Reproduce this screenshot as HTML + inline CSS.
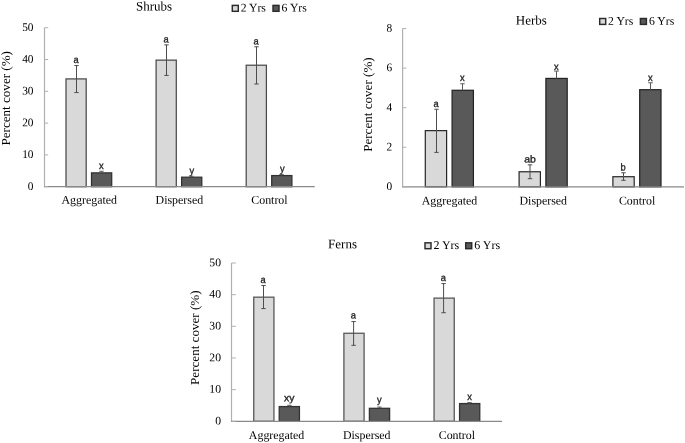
<!DOCTYPE html>
<html><head><meta charset="utf-8"><title>Percent cover</title>
<style>html,body{margin:0;padding:0;background:#fff}svg{display:block}</style></head>
<body><svg width="685" height="443" viewBox="0 0 685 443">
<rect width="685" height="443" fill="#fff"/>
<rect x="66.00" y="78.90" width="20.20" height="107.80" fill="#d9d9d9" stroke="#4a4a4a" stroke-width="1.25"/>
<path d="M76.50 65.54V92.57M74.30 65.54h4.4M74.30 92.57h4.4" stroke="#4d4d4d" stroke-width="1" fill="none"/>
<text transform="translate(76.20 63.00) rotate(0.04) scale(0.93 1)" font-family='"Liberation Sans", sans-serif' font-size="10" text-anchor="middle" fill="#262626" stroke="#262626" stroke-width="0.35">a</text>
<rect x="91.50" y="172.87" width="20.20" height="13.83" fill="#595959" stroke="#303030" stroke-width="1.25"/>
<path d="M101.50 171.28V172.87M99.30 171.28h4.4" stroke="#595959" stroke-width="1" fill="none"/>
<text transform="translate(101.20 169.00) rotate(0.04) scale(0.93 1)" font-family='"Liberation Sans", sans-serif' font-size="10" text-anchor="middle" fill="#262626" stroke="#262626" stroke-width="0.35">x</text>
<text transform="translate(89.25 203.80) rotate(0.04)" font-family='"Liberation Serif", serif' font-size="11.9" text-anchor="middle" fill="#000">Aggregated</text>
<rect x="156.10" y="60.14" width="20.20" height="126.56" fill="#d9d9d9" stroke="#4a4a4a" stroke-width="1.25"/>
<path d="M166.50 44.87V75.40M164.30 44.87h4.4M164.30 75.40h4.4" stroke="#4d4d4d" stroke-width="1" fill="none"/>
<text transform="translate(166.20 42.50) rotate(0.04) scale(0.93 1)" font-family='"Liberation Sans", sans-serif' font-size="10" text-anchor="middle" fill="#262626" stroke="#262626" stroke-width="0.35">a</text>
<rect x="181.60" y="177.19" width="20.20" height="9.51" fill="#595959" stroke="#303030" stroke-width="1.25"/>
<path d="M191.50 176.24V177.19M189.30 176.24h4.4" stroke="#595959" stroke-width="1" fill="none"/>
<text transform="translate(191.70 174.00) rotate(0.04) scale(0.93 1)" font-family='"Liberation Sans", sans-serif' font-size="10" text-anchor="middle" fill="#262626" stroke="#262626" stroke-width="0.35">y</text>
<text transform="translate(179.35 203.80) rotate(0.04)" font-family='"Liberation Serif", serif' font-size="11.9" text-anchor="middle" fill="#000">Dispersed</text>
<rect x="246.20" y="65.22" width="20.20" height="121.48" fill="#d9d9d9" stroke="#4a4a4a" stroke-width="1.25"/>
<path d="M256.50 46.78V83.99M254.30 46.78h4.4M254.30 83.99h4.4" stroke="#4d4d4d" stroke-width="1" fill="none"/>
<text transform="translate(256.20 44.60) rotate(0.04) scale(0.93 1)" font-family='"Liberation Sans", sans-serif' font-size="10" text-anchor="middle" fill="#262626" stroke="#262626" stroke-width="0.35">a</text>
<rect x="271.70" y="175.57" width="20.20" height="11.13" fill="#595959" stroke="#303030" stroke-width="1.25"/>
<path d="M281.50 174.62V175.57M279.30 174.62h4.4" stroke="#595959" stroke-width="1" fill="none"/>
<text transform="translate(282.40 172.00) rotate(0.04) scale(0.93 1)" font-family='"Liberation Sans", sans-serif' font-size="10" text-anchor="middle" fill="#262626" stroke="#262626" stroke-width="0.35">y</text>
<text transform="translate(269.45 203.80) rotate(0.04)" font-family='"Liberation Serif", serif' font-size="11.9" text-anchor="middle" fill="#000">Control</text>
<path d="M44.50 27.70V186.70" stroke="#b0b0b0" stroke-width="1.2" fill="none"/>
<path d="M44.00 186.70H314.80" stroke="#8a8a8a" stroke-width="1.3" fill="none"/>
<path d="M44.50 186.70h3.7" stroke="#b0b0b0" stroke-width="1"/>
<text transform="translate(33.50 189.90) rotate(0.04) scale(0.97 1)" font-family='"Liberation Serif", serif' font-size="11.7" text-anchor="end" fill="#000">0</text>
<path d="M44.50 154.90h3.7" stroke="#b0b0b0" stroke-width="1"/>
<text transform="translate(33.50 158.10) rotate(0.04) scale(0.97 1)" font-family='"Liberation Serif", serif' font-size="11.7" text-anchor="end" fill="#000">10</text>
<path d="M44.50 123.10h3.7" stroke="#b0b0b0" stroke-width="1"/>
<text transform="translate(33.50 126.30) rotate(0.04) scale(0.97 1)" font-family='"Liberation Serif", serif' font-size="11.7" text-anchor="end" fill="#000">20</text>
<path d="M44.50 91.30h3.7" stroke="#b0b0b0" stroke-width="1"/>
<text transform="translate(33.50 94.50) rotate(0.04) scale(0.97 1)" font-family='"Liberation Serif", serif' font-size="11.7" text-anchor="end" fill="#000">30</text>
<path d="M44.50 59.50h3.7" stroke="#b0b0b0" stroke-width="1"/>
<text transform="translate(33.50 62.70) rotate(0.04) scale(0.97 1)" font-family='"Liberation Serif", serif' font-size="11.7" text-anchor="end" fill="#000">40</text>
<path d="M44.50 27.70h3.7" stroke="#b0b0b0" stroke-width="1"/>
<text transform="translate(33.50 30.90) rotate(0.04) scale(0.97 1)" font-family='"Liberation Serif", serif' font-size="11.7" text-anchor="end" fill="#000">50</text>
<text transform="translate(9.70 98.30) rotate(-90)" font-family='"Liberation Serif", serif' font-size="13.1" text-anchor="middle" fill="#000">Percent cover (%)</text>
<text transform="translate(154.00 10.40) rotate(0.04)" font-family='"Liberation Serif", serif' font-size="13" text-anchor="middle" fill="#000">Shrubs</text>
<rect x="232.30" y="5.40" width="6" height="5.9" fill="#d9d9d9" stroke="#2a2a2a" stroke-width="1.45"/>
<text transform="translate(240.70 11.60) rotate(0.04)" font-family='"Liberation Serif", serif' font-size="11.7" fill="#000">2 Yrs</text>
<rect x="273.00" y="5.40" width="6" height="5.9" fill="#595959" stroke="#2a2a2a" stroke-width="1.45"/>
<text transform="translate(281.60 11.60) rotate(0.04)" font-family='"Liberation Serif", serif' font-size="11.7" fill="#000">6 Yrs</text>
<rect x="425.30" y="130.64" width="21.30" height="56.16" fill="#d9d9d9" stroke="#262626" stroke-width="1.2"/>
<path d="M436.50 109.28V152.39M434.30 109.28h4.4M434.30 152.39h4.4" stroke="#4d4d4d" stroke-width="1" fill="none"/>
<text transform="translate(436.20 107.00) rotate(0.04) scale(0.93 1)" font-family='"Liberation Sans", sans-serif' font-size="10" text-anchor="middle" fill="#262626" stroke="#262626" stroke-width="0.35">a</text>
<rect x="452.10" y="90.30" width="21.30" height="96.50" fill="#595959" stroke="#242424" stroke-width="1.25"/>
<path d="M462.50 83.77V90.30M460.30 83.77h4.4" stroke="#595959" stroke-width="1" fill="none"/>
<text transform="translate(462.20 81.00) rotate(0.04) scale(0.93 1)" font-family='"Liberation Sans", sans-serif' font-size="10" text-anchor="middle" fill="#262626" stroke="#262626" stroke-width="0.35">x</text>
<text transform="translate(449.50 204.40) rotate(0.04)" font-family='"Liberation Serif", serif' font-size="11.9" text-anchor="middle" fill="#000">Aggregated</text>
<rect x="519.10" y="171.77" width="21.30" height="15.03" fill="#d9d9d9" stroke="#262626" stroke-width="1.2"/>
<path d="M530.00 164.85V178.69M527.80 164.85h4.4M527.80 178.69h4.4" stroke="#4d4d4d" stroke-width="1" fill="none"/>
<text transform="translate(530.00 162.50) rotate(0.04) scale(1.04 1)" font-family='"Liberation Sans", sans-serif' font-size="10" text-anchor="middle" fill="#262626" stroke="#262626" stroke-width="0.35">ab</text>
<rect x="545.90" y="78.43" width="21.30" height="108.37" fill="#595959" stroke="#242424" stroke-width="1.25"/>
<path d="M556.50 71.12V78.43M554.30 71.12h4.4" stroke="#595959" stroke-width="1" fill="none"/>
<text transform="translate(556.20 70.00) rotate(0.04) scale(0.93 1)" font-family='"Liberation Sans", sans-serif' font-size="10" text-anchor="middle" fill="#262626" stroke="#262626" stroke-width="0.35">x</text>
<text transform="translate(543.30 204.40) rotate(0.04)" font-family='"Liberation Serif", serif' font-size="11.9" text-anchor="middle" fill="#000">Dispersed</text>
<rect x="612.90" y="176.71" width="21.30" height="10.09" fill="#d9d9d9" stroke="#262626" stroke-width="1.2"/>
<path d="M623.50 172.76V180.27M621.30 172.76h4.4M621.30 180.27h4.4" stroke="#4d4d4d" stroke-width="1" fill="none"/>
<text transform="translate(623.20 170.50) rotate(0.04) scale(0.93 1)" font-family='"Liberation Sans", sans-serif' font-size="10" text-anchor="middle" fill="#262626" stroke="#262626" stroke-width="0.35">b</text>
<rect x="639.70" y="89.70" width="21.30" height="97.10" fill="#595959" stroke="#242424" stroke-width="1.25"/>
<path d="M650.50 82.78V89.70M648.30 82.78h4.4" stroke="#595959" stroke-width="1" fill="none"/>
<text transform="translate(650.20 81.00) rotate(0.04) scale(0.93 1)" font-family='"Liberation Sans", sans-serif' font-size="10" text-anchor="middle" fill="#262626" stroke="#262626" stroke-width="0.35">x</text>
<text transform="translate(637.10 204.40) rotate(0.04)" font-family='"Liberation Serif", serif' font-size="11.9" text-anchor="middle" fill="#000">Control</text>
<path d="M402.60 28.60V186.80" stroke="#b0b0b0" stroke-width="1.2" fill="none"/>
<path d="M402.10 186.80H684.00" stroke="#8a8a8a" stroke-width="1.3" fill="none"/>
<path d="M402.60 186.80h3.7" stroke="#b0b0b0" stroke-width="1"/>
<text transform="translate(392.20 190.00) rotate(0.04) scale(0.97 1)" font-family='"Liberation Serif", serif' font-size="11.7" text-anchor="end" fill="#000">0</text>
<path d="M402.60 147.25h3.7" stroke="#b0b0b0" stroke-width="1"/>
<text transform="translate(392.20 150.45) rotate(0.04) scale(0.97 1)" font-family='"Liberation Serif", serif' font-size="11.7" text-anchor="end" fill="#000">2</text>
<path d="M402.60 107.70h3.7" stroke="#b0b0b0" stroke-width="1"/>
<text transform="translate(392.20 110.90) rotate(0.04) scale(0.97 1)" font-family='"Liberation Serif", serif' font-size="11.7" text-anchor="end" fill="#000">4</text>
<path d="M402.60 68.15h3.7" stroke="#b0b0b0" stroke-width="1"/>
<text transform="translate(392.20 71.35) rotate(0.04) scale(0.97 1)" font-family='"Liberation Serif", serif' font-size="11.7" text-anchor="end" fill="#000">6</text>
<path d="M402.60 28.60h3.7" stroke="#b0b0b0" stroke-width="1"/>
<text transform="translate(392.20 31.80) rotate(0.04) scale(0.97 1)" font-family='"Liberation Serif", serif' font-size="11.7" text-anchor="end" fill="#000">8</text>
<text transform="translate(371.80 104.60) rotate(-90)" font-family='"Liberation Serif", serif' font-size="13.1" text-anchor="middle" fill="#000">Percent cover (%)</text>
<text transform="translate(531.30 24.40) rotate(0.04)" font-family='"Liberation Serif", serif' font-size="13" text-anchor="middle" fill="#000">Herbs</text>
<rect x="599.70" y="18.50" width="6" height="5.9" fill="#d9d9d9" stroke="#2a2a2a" stroke-width="1.45"/>
<text transform="translate(608.10 24.70) rotate(0.04)" font-family='"Liberation Serif", serif' font-size="11.7" fill="#000">2 Yrs</text>
<rect x="640.40" y="18.50" width="6" height="5.9" fill="#595959" stroke="#2a2a2a" stroke-width="1.45"/>
<text transform="translate(649.00 24.70) rotate(0.04)" font-family='"Liberation Serif", serif' font-size="11.7" fill="#000">6 Yrs</text>
<rect x="253.73" y="297.19" width="20.20" height="124.11" fill="#d9d9d9" stroke="#636363" stroke-width="1.4"/>
<path d="M263.50 285.48V308.59M261.30 285.48h4.4M261.30 308.59h4.4" stroke="#4d4d4d" stroke-width="1" fill="none"/>
<text transform="translate(263.20 283.00) rotate(0.04) scale(0.93 1)" font-family='"Liberation Sans", sans-serif' font-size="10" text-anchor="middle" fill="#262626" stroke="#262626" stroke-width="0.35">a</text>
<rect x="279.23" y="406.58" width="20.20" height="14.72" fill="#595959" stroke="#333333" stroke-width="1.3"/>
<path d="M289.50 405.31V406.58M287.30 405.31h4.4" stroke="#595959" stroke-width="1" fill="none"/>
<text transform="translate(289.20 401.20) rotate(0.04) scale(1.04 1)" font-family='"Liberation Sans", sans-serif' font-size="10" text-anchor="middle" fill="#262626" stroke="#262626" stroke-width="0.35">xy</text>
<text transform="translate(276.58 438.90) rotate(0.04)" font-family='"Liberation Serif", serif' font-size="11.9" text-anchor="middle" fill="#000">Aggregated</text>
<rect x="343.90" y="333.29" width="20.20" height="88.01" fill="#d9d9d9" stroke="#636363" stroke-width="1.4"/>
<path d="M353.60 321.57V345.32M351.40 321.57h4.4M351.40 345.32h4.4" stroke="#4d4d4d" stroke-width="1" fill="none"/>
<text transform="translate(353.30 318.50) rotate(0.04) scale(0.93 1)" font-family='"Liberation Sans", sans-serif' font-size="10" text-anchor="middle" fill="#262626" stroke="#262626" stroke-width="0.35">a</text>
<rect x="369.40" y="408.32" width="20.20" height="12.98" fill="#595959" stroke="#333333" stroke-width="1.3"/>
<path d="M379.50 407.05V408.32M377.30 407.05h4.4" stroke="#595959" stroke-width="1" fill="none"/>
<text transform="translate(379.20 403.00) rotate(0.04) scale(0.93 1)" font-family='"Liberation Sans", sans-serif' font-size="10" text-anchor="middle" fill="#262626" stroke="#262626" stroke-width="0.35">y</text>
<text transform="translate(366.75 438.90) rotate(0.04)" font-family='"Liberation Serif", serif' font-size="11.9" text-anchor="middle" fill="#000">Dispersed</text>
<rect x="434.07" y="298.14" width="20.20" height="123.16" fill="#d9d9d9" stroke="#636363" stroke-width="1.4"/>
<path d="M443.60 283.58V312.71M441.40 283.58h4.4M441.40 312.71h4.4" stroke="#4d4d4d" stroke-width="1" fill="none"/>
<text transform="translate(443.30 281.00) rotate(0.04) scale(0.93 1)" font-family='"Liberation Sans", sans-serif' font-size="10" text-anchor="middle" fill="#262626" stroke="#262626" stroke-width="0.35">a</text>
<rect x="459.57" y="403.57" width="20.20" height="17.73" fill="#595959" stroke="#333333" stroke-width="1.3"/>
<path d="M469.50 402.62V403.57M467.30 402.62h4.4" stroke="#595959" stroke-width="1" fill="none"/>
<text transform="translate(469.60 399.90) rotate(0.04) scale(0.93 1)" font-family='"Liberation Sans", sans-serif' font-size="10" text-anchor="middle" fill="#262626" stroke="#262626" stroke-width="0.35">x</text>
<text transform="translate(456.92 438.90) rotate(0.04)" font-family='"Liberation Serif", serif' font-size="11.9" text-anchor="middle" fill="#000">Control</text>
<path d="M231.50 263.00V421.30" stroke="#b0b0b0" stroke-width="1.2" fill="none"/>
<path d="M231.00 421.30H502.00" stroke="#8a8a8a" stroke-width="1.3" fill="none"/>
<path d="M231.50 421.30h4.4" stroke="#b0b0b0" stroke-width="1"/>
<text transform="translate(221.00 424.50) rotate(0.04) scale(1 1)" font-family='"Liberation Serif", serif' font-size="11.7" text-anchor="end" fill="#000">0</text>
<path d="M231.50 389.64h4.4" stroke="#b0b0b0" stroke-width="1"/>
<text transform="translate(221.00 392.84) rotate(0.04) scale(1 1)" font-family='"Liberation Serif", serif' font-size="11.7" text-anchor="end" fill="#000">10</text>
<path d="M231.50 357.98h4.4" stroke="#b0b0b0" stroke-width="1"/>
<text transform="translate(221.00 361.18) rotate(0.04) scale(1 1)" font-family='"Liberation Serif", serif' font-size="11.7" text-anchor="end" fill="#000">20</text>
<path d="M231.50 326.32h4.4" stroke="#b0b0b0" stroke-width="1"/>
<text transform="translate(221.00 329.52) rotate(0.04) scale(1 1)" font-family='"Liberation Serif", serif' font-size="11.7" text-anchor="end" fill="#000">30</text>
<path d="M231.50 294.66h4.4" stroke="#b0b0b0" stroke-width="1"/>
<text transform="translate(221.00 297.86) rotate(0.04) scale(1 1)" font-family='"Liberation Serif", serif' font-size="11.7" text-anchor="end" fill="#000">40</text>
<path d="M231.50 263.00h4.4" stroke="#b0b0b0" stroke-width="1"/>
<text transform="translate(221.00 266.20) rotate(0.04) scale(1 1)" font-family='"Liberation Serif", serif' font-size="11.7" text-anchor="end" fill="#000">50</text>
<text transform="translate(198.70 337.70) rotate(-90)" font-family='"Liberation Serif", serif' font-size="13.1" text-anchor="middle" fill="#000">Percent cover (%)</text>
<text transform="translate(342.50 248.20) rotate(0.04)" font-family='"Liberation Serif", serif' font-size="13" text-anchor="middle" fill="#000">Ferns</text>
<rect x="425.00" y="242.80" width="6" height="5.9" fill="#d9d9d9" stroke="#2a2a2a" stroke-width="1.45"/>
<text transform="translate(433.40 249.00) rotate(0.04)" font-family='"Liberation Serif", serif' font-size="12" fill="#000">2 Yrs</text>
<rect x="465.70" y="242.80" width="6" height="5.9" fill="#595959" stroke="#2a2a2a" stroke-width="1.45"/>
<text transform="translate(474.30 249.00) rotate(0.04)" font-family='"Liberation Serif", serif' font-size="12" fill="#000">6 Yrs</text>
</svg></body></html>
